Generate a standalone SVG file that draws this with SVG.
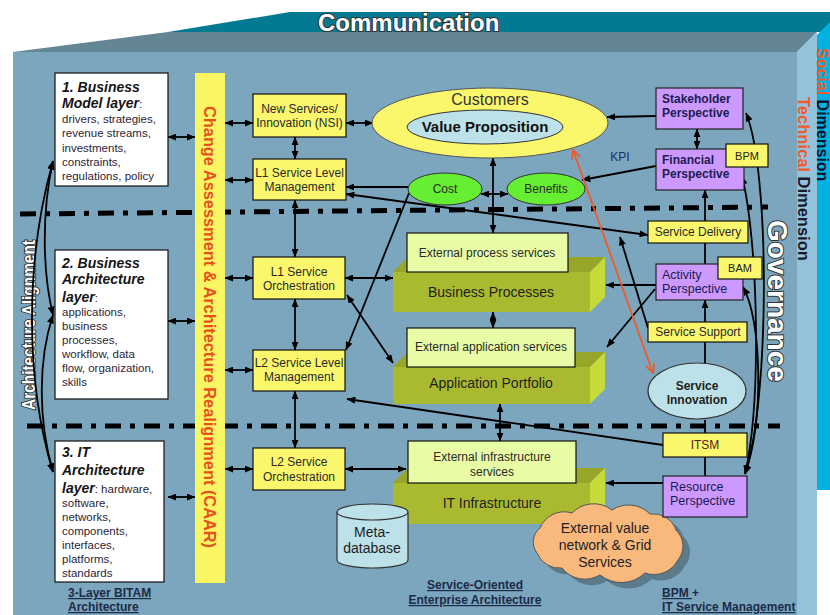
<svg xmlns="http://www.w3.org/2000/svg" width="830" height="615" viewBox="0 0 830 615">
<defs>
<marker id="a" viewBox="0 0 10 8" refX="9.5" refY="4" markerWidth="9" markerHeight="7" markerUnits="userSpaceOnUse" orient="auto-start-reverse"><path d="M0,0L10,4L0,8z" fill="#000"/></marker>
<marker id="o" viewBox="0 0 10 10" refX="9" refY="5" markerWidth="11" markerHeight="11" markerUnits="userSpaceOnUse" orient="auto-start-reverse"><path d="M1,1L9,5L1,9" fill="none" stroke="#f05a28" stroke-width="1.6"/></marker>
<style>
text{font-family:"Liberation Sans",Arial,sans-serif;}
.c{fill:none;stroke:#000;stroke-width:1.8;}
.b2{marker-start:url(#a);marker-end:url(#a);}
.e1{marker-end:url(#a);}
.dash{fill:none;stroke:#000;stroke-width:5;stroke-dasharray:16 9 5 9;}
.wb{fill:#fff;stroke:#111;stroke-width:1.2;}
.yb{fill:#faf76c;stroke:#111;stroke-width:1.2;}
.pb{fill:#cc99ff;stroke:#222;stroke-width:1.2;}
.xb{fill:#e8fca6;stroke:#111;stroke-width:1.2;}
.lb{fill:#bde1e8;stroke:#333;stroke-width:1.2;}
.gr{fill:#66ee33;stroke:#333;stroke-width:1;}
.t12{font-size:12px;fill:#2a2a2a;}
.mid{text-anchor:middle;}
.hd{font-size:14px;font-weight:bold;font-style:italic;fill:#151515;}
.bd{font-size:11.5px;fill:#2d2535;}
.lbl{font-size:12px;font-weight:bold;fill:#1c2a48;}
.out{fill:#fff;stroke:#333;stroke-width:2;paint-order:stroke;font-weight:bold;}
.top{fill:#97a629;}
.front{fill:#a9ba30;}
.side{fill:#c6da3a;}
.big{font-size:14px;fill:#1e1e1e;}
.pt{font-size:12.5px;fill:#1a1a50;}
</style>
</defs>
<rect width="830" height="615" fill="#fff"/>
<g id="box3d">
<polygon points="168,32 290,12 830,12 830,32" fill="#047a92"/>
<polygon points="13,52 168,32 817,32 797,52" fill="#648593"/>
<rect x="13" y="52" width="784" height="563" fill="#7ba6bd"/>
<polygon points="797,52 817,32 817,615 797,615" fill="#94c2da"/>
<polygon points="817,35 830,22 830,490 817,490" fill="#00b1e1"/>
<text x="318" y="31" class="out" font-size="24">Communication</text>
<text transform="translate(817,48) rotate(90)" font-size="16" font-weight="bold"><tspan fill="#f05a28">Social</tspan><tspan fill="#0c1630"> Dimension</tspan></text>
<text transform="translate(798,97) rotate(90)" font-size="16.5" font-weight="bold"><tspan fill="#f05a28">Technical</tspan><tspan fill="#1a1a2a"> Dimension</tspan></text>
<text transform="translate(768,220) rotate(90)" class="out" font-size="28">Governance</text>
<text transform="translate(35,410) rotate(-90)" class="out" font-size="19" stroke-width="2" textLength="170" lengthAdjust="spacingAndGlyphs">Architecture Alignment</text>
</g>
<g id="separators">
<path class="dash" d="M20,214 L768,207"/>
<path class="dash" d="M27,426 L780,426"/>
</g>
<g id="connectors">
<path class="c b2" d="M168,137 H195"/>
<path class="c b2" d="M225,123 H253"/>
<path class="c b2" d="M225,180 H253"/>
<path class="c b2" d="M168,321 H195"/>
<path class="c b2" d="M225,278 H253"/>
<path class="c b2" d="M225,370 H253"/>
<path class="c b2" d="M168,497 H195"/>
<path class="c b2" d="M225,469 H253"/>
<path class="c b2" d="M346,123 H373"/>
<path class="c b2" d="M295,137 V159"/>
<path class="c b2" d="M295,200 V257"/>
<path class="c b2" d="M295,299 V350"/>
<path class="c b2" d="M295,391 V448"/>
<path class="c e1" d="M409,187 H346"/>
<path class="c b2" d="M481,194 H508"/>
<path class="c b2" d="M346,194 L648,235"/>
<path class="c b2" d="M493,158 V233"/>
<path class="c b2" d="M345,278 H393"/>
<path class="c b2" d="M347,295 L393,363"/>
<path class="c e1" d="M409,193 L346,350"/>
<path class="c b2" d="M493,312 V328"/>
<path class="c b2" d="M500,404 V441"/>
<path class="c b2" d="M345,469 H406"/>
<path class="c e1" d="M663,445 L347,399"/>
<path class="c e1" d="M656,116 L607,117"/>
<path class="c b2" d="M697,129 V149"/>
<path class="c e1" d="M656,166 L582,180"/>
<path class="c e1" d="M705,264 V190"/>
<path class="c e1" d="M705,322 V300"/>
<path class="c" d="M705,363 V342"/>
<path class="c" d="M705,420 V433"/>
<path class="c" d="M705,457 V476"/>
<path class="c e1" d="M656,285 H606"/>
<path class="c e1" d="M655,289 L607,347"/>
<path class="c e1" d="M648,328 L620,237"/>
<path class="c e1" d="M663,483 H606"/>
<path d="M573,150 L653,373" fill="none" stroke="#f05a28" stroke-width="1.8" marker-start="url(#o)" marker-end="url(#o)"/>
<path class="c b2" d="M746,113 C770,170 770,400 745,474"/>
<path class="c b2" d="M742,176 C758,240 762,400 745,474"/>
<path class="c b2" d="M743,287 C762,320 764,420 745,474"/>
<path class="c b2" d="M53,161 C25,260 25,380 53,472"/>
<path class="c b2" d="M53,161 C42,210 42,270 53,315"/>
<path class="c b2" d="M53,315 C38,360 38,420 53,472"/>
</g>
<g id="caar">
<rect x="195" y="73" width="30" height="510" fill="#faf562"/>
<text transform="translate(204,106) rotate(90)" font-size="16" font-weight="bold" fill="#e8501e" textLength="442" lengthAdjust="spacingAndGlyphs">Change Assessment &amp; Architecture Realignment (CAAR)</text>
</g>
<g id="layer1">
<rect class="wb" x="55" y="73" width="113" height="113"/>
<text x="62" y="92" class="hd">1. Business</text>
<text x="62" y="108"><tspan class="hd">Model layer</tspan><tspan class="bd" font-size="12">:</tspan></text>
<text x="62" y="123" class="bd">drivers, strategies,</text>
<text x="62" y="137" class="bd">revenue streams,</text>
<text x="62" y="152" class="bd">investments,</text>
<text x="62" y="166" class="bd">constraints,</text>
<text x="62" y="180" class="bd">regulations, policy</text>
</g>
<g id="layer2">
<rect class="wb" x="55" y="250" width="113" height="149"/>
<text x="62" y="268" class="hd">2. Business</text>
<text x="62" y="284" class="hd">Architecture</text>
<text x="62" y="302"><tspan class="hd">layer</tspan><tspan class="bd" font-size="12">:</tspan></text>
<text x="62" y="316" class="bd">applications,</text>
<text x="62" y="330" class="bd">business</text>
<text x="62" y="344" class="bd">processes,</text>
<text x="62" y="358" class="bd">workflow, data</text>
<text x="62" y="372" class="bd">flow, organization,</text>
<text x="62" y="386" class="bd">skills</text>
</g>
<g id="layer3">
<rect class="wb" x="55" y="441" width="109" height="141"/>
<text x="62" y="457" class="hd">3. IT</text>
<text x="62" y="475" class="hd">Architecture</text>
<text x="62" y="493"><tspan class="hd">layer</tspan><tspan class="bd">: hardware,</tspan></text>
<text x="62" y="507" class="bd">software,</text>
<text x="62" y="521" class="bd">networks,</text>
<text x="62" y="535" class="bd">components,</text>
<text x="62" y="549" class="bd">interfaces,</text>
<text x="62" y="563" class="bd">platforms,</text>
<text x="62" y="577" class="bd">standards</text>
</g>
<g id="nsi"><rect class="yb" x="253" y="94" width="93" height="43"/>
<text class="t12 mid" x="299.5" y="113">New Services/</text><text class="t12 mid" x="299.5" y="127">Innovation (NSI)</text></g>
<g id="l1slm"><rect class="yb" x="253" y="159" width="93" height="41"/>
<text class="t12 mid" x="299.5" y="177">L1 Service Level</text><text class="t12 mid" x="299.5" y="191">Management</text></g>
<g id="l1orch"><rect class="yb" x="253" y="257" width="92" height="42"/>
<text class="t12 mid" x="299" y="276">L1 Service</text><text class="t12 mid" x="299" y="290">Orchestration</text></g>
<g id="l2slm"><rect class="yb" x="253" y="350" width="92" height="41"/>
<text class="t12 mid" x="299" y="367">L2 Service Level</text><text class="t12 mid" x="299" y="381">Management</text></g>
<g id="l2orch"><rect class="yb" x="253" y="448" width="92" height="42"/>
<text class="t12 mid" x="299" y="466">L2 Service</text><text class="t12 mid" x="299" y="481">Orchestration</text></g>
<g id="customers">
<ellipse cx="490" cy="123" rx="118" ry="35" fill="#faf76c" stroke="#555" stroke-width="1"/>
<text x="490" y="105" class="mid" font-size="16" fill="#333">Customers</text>
<ellipse cx="485" cy="127" rx="78" ry="17" fill="#bde1e8" stroke="#333" stroke-width="1"/>
<text x="485" y="132" class="mid" font-size="15" font-weight="bold" fill="#111">Value Proposition</text>
</g>
<g id="cost"><ellipse class="gr" cx="445" cy="189" rx="37" ry="16"/><text class="t12 mid" x="445" y="193">Cost</text></g>
<g id="benefits"><ellipse class="gr" cx="546" cy="189" rx="39" ry="16"/><text class="t12 mid" x="546" y="193">Benefits</text></g>
<g id="bp">
<polygon class="top" points="393,272 408,257 605,257 590,272"/>
<rect class="front" x="393" y="272" width="197" height="40"/>
<polygon class="side" points="590,272 605,257 605,297 590,312"/>
<text class="big mid" x="491" y="297">Business Processes</text>
<rect class="xb" x="407" y="233" width="161" height="39"/>
<text class="t12 mid" x="487" y="257">External process services</text>
</g>
<g id="ap">
<polygon class="top" points="393,367 408,352 605,352 590,367"/>
<rect class="front" x="393" y="367" width="197" height="37"/>
<polygon class="side" points="590,367 605,352 605,389 590,404"/>
<text class="big mid" x="491" y="388">Application Portfolio</text>
<rect class="xb" x="407" y="328" width="168" height="39"/>
<text class="t12 mid" x="491" y="351">External application services</text>
</g>
<g id="it">
<polygon class="top" points="393,483 408,468 605,468 590,483"/>
<rect class="front" x="393" y="483" width="197" height="41"/>
<polygon class="side" points="590,483 605,468 605,509 590,524"/>
<text class="big mid" x="492" y="508">IT Infrastructure</text>
<rect class="xb" x="408" y="441" width="168" height="42"/>
<text class="t12 mid" x="492" y="461">External infrastructure</text>
<text class="t12 mid" x="492" y="476">services</text>
</g>
<g id="metadb">
<path d="M337,512 V560 A35.5,8 0 0 0 408,560 V512" fill="#bde1e8" stroke="#333" stroke-width="1.2"/>
<ellipse cx="372.5" cy="512" rx="35.5" ry="8" fill="#bde1e8" stroke="#333" stroke-width="1.2"/>
<text class="big mid" x="372" y="537">Meta-</text>
<text class="big mid" x="372" y="553">database</text>
</g>
<g id="cloud">
<path transform="translate(7,6)" fill="#506c7a" opacity="0.75" d="M540,528 A26,26 0 0 1 572,513 A30,30 0 0 1 612,510 A30,30 0 0 1 650,514 A24,24 0 0 1 676,530 A22,22 0 0 1 678,560 A27,27 0 0 1 645,573 A34,34 0 0 1 600,575 A29,29 0 0 1 562,568 A24,24 0 0 1 537,553 A18,18 0 0 1 540,528 Z"/>
<path fill="#f9b97c" stroke="#555" stroke-width="1" d="M540,528 A26,26 0 0 1 572,513 A30,30 0 0 1 612,510 A30,30 0 0 1 650,514 A24,24 0 0 1 676,530 A22,22 0 0 1 678,560 A27,27 0 0 1 645,573 A34,34 0 0 1 600,575 A29,29 0 0 1 562,568 A24,24 0 0 1 537,553 A18,18 0 0 1 540,528 Z"/>
<text class="big mid" x="605" y="533">External value</text>
<text class="big mid" x="605" y="550">network &amp; Grid</text>
<text class="big mid" x="605" y="567">Services</text>
</g>
<g id="stakeholder"><rect class="pb" x="656" y="88" width="87" height="41"/>
<text x="662" y="103" font-size="12" font-weight="bold" fill="#1c1c50">Stakeholder</text><text x="662" y="117" font-size="12" font-weight="bold" fill="#1c1c50">Perspective</text></g>
<g id="financial"><rect class="pb" x="656" y="149" width="88" height="41"/>
<text x="662" y="164" font-size="12" font-weight="bold" fill="#1c1c50">Financial</text><text x="662" y="178" font-size="12" font-weight="bold" fill="#1c1c50">Perspective</text></g>
<g id="bpm"><rect class="yb" x="726" y="144" width="42" height="23"/><text x="747" y="160" class="mid" font-size="11" fill="#222">BPM</text></g>
<text x="620" y="161" class="mid" font-size="12" fill="#1f2f5f">KPI</text>
<g id="servicedelivery"><rect class="yb" x="648" y="221" width="100" height="22"/><text class="t12 mid" x="698" y="236">Service Delivery</text></g>
<g id="activity"><rect class="pb" x="656" y="264" width="87" height="36"/>
<text x="662" y="279" class="pt">Activity</text><text x="662" y="293" class="pt">Perspective</text></g>
<g id="bam"><rect class="yb" x="718" y="257" width="44" height="22"/><text x="740" y="272" class="mid" font-size="11" fill="#222">BAM</text></g>
<g id="servicesupport"><rect class="yb" x="648" y="322" width="99" height="20"/><text class="t12 mid" x="698" y="336">Service Support</text></g>
<g id="serviceinnovation"><ellipse class="lb" cx="697" cy="391" rx="49" ry="28"/>
<text x="697" y="390" class="mid" font-size="12" font-weight="bold" fill="#222">Service</text><text x="697" y="404" class="mid" font-size="12" font-weight="bold" fill="#222">Innovation</text></g>
<g id="itsm"><rect class="yb" x="663" y="433" width="84" height="24"/><text x="705" y="449" class="mid" font-size="12" fill="#502020">ITSM</text></g>
<g id="resource"><rect class="pb" x="663" y="476" width="84" height="41"/>
<text x="670" y="491" class="pt">Resource</text><text x="670" y="505" class="pt">Perspective</text></g>
<g id="captions">
<text x="68" y="597" class="lbl" text-decoration="underline">3-Layer BITAM</text>
<text x="68" y="611" class="lbl" text-decoration="underline">Architecture</text>
<text x="475" y="589" class="lbl mid" text-decoration="underline">Service-Oriented</text>
<text x="475" y="604" class="lbl mid" text-decoration="underline">Enterprise Architecture</text>
<text x="662" y="597" class="lbl"><tspan text-decoration="underline">BPM </tspan> +</text>
<text x="662" y="611" class="lbl" text-decoration="underline">IT Service Management</text>
</g>
</svg>
